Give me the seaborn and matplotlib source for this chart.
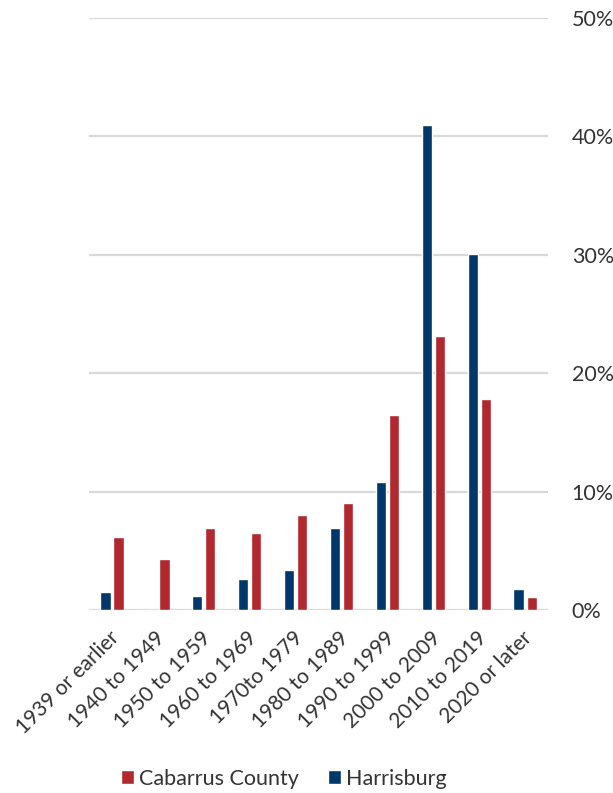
import matplotlib
matplotlib.use("Agg")
import matplotlib.pyplot as plt
import matplotlib.transforms as mtransforms
from matplotlib.patches import Patch
from matplotlib.ticker import FuncFormatter
import seaborn as sns
import pandas as pd

# Year structure built, share of housing units (%)
periods = ["1939 or earlier", "1940 to 1949", "1950 to 1959", "1960 to 1969",
           "1970to 1979", "1980 to 1989", "1990 to 1999", "2000 to 2009",
           "2010 to 2019", "2020 or later"]
harrisburg = [1.5, 0.0, 1.2, 2.6, 3.4, 6.9, 10.8, 41.0, 30.1, 1.8]
cabarrus = [6.2, 4.3, 6.9, 6.5, 8.0, 9.0, 16.5, 23.1, 17.8, 1.1]
y_ticks = [0, 10, 20, 30, 40, 50]

navy = "#00386B"
red = "#B2282F"
grid_gray = "#D9D9D9"
text_gray = "#333333"

df = pd.DataFrame({
    "period": periods * 2,
    "share": harrisburg + cabarrus,
    "area": ["Harrisburg"] * len(periods) + ["Cabarrus County"] * len(periods),
})

sns.set_theme(style="white")
plt.rcParams["font.family"] = ["Lato", "DejaVu Sans"]

fig = plt.figure(figsize=(6.13, 7.93), dpi=100)
ax = fig.add_axes([0.1452, 0.2308, 0.894 - 0.1452, 0.9773 - 0.2308])

sns.barplot(data=df, x="period", y="share", hue="area",
            hue_order=["Harrisburg", "Cabarrus County"],
            palette={"Harrisburg": navy, "Cabarrus County": red},
            order=periods, width=0.57, gap=0.22, dodge=True, saturation=1,
            legend=False, ax=ax, zorder=3)

ax.set_ylim(0, 50)
ax.set_xlim(-0.5, len(periods) - 0.5)
ax.set_yticks(y_ticks)
ax.yaxis.set_major_formatter(FuncFormatter(lambda v, _: f"{v:.0f}%"))
ax.yaxis.tick_right()
ax.tick_params(axis="y", length=0, pad=17, labelsize=15.5, labelcolor=text_gray)
ax.tick_params(axis="x", length=0, pad=18)
ax.set_xticks(range(len(periods)))
ax.set_xticklabels(periods, rotation=45, ha="right", va="center",
                   rotation_mode="anchor", fontsize=15, color=text_gray)
# nudge the slanted category labels slightly to the right
shift = mtransforms.ScaledTranslation(4 / 100, 0, fig.dpi_scale_trans)
for lab in ax.get_xticklabels():
    lab.set_transform(lab.get_transform() + shift)

ax.grid(axis="y", color=grid_gray, linewidth=1.6, zorder=0)
ax.grid(axis="x", visible=False)
for s in ax.spines.values():
    s.set_visible(False)
ax.set_xlabel("")
ax.set_ylabel("")

handles = [Patch(facecolor=red, label="Cabarrus County"),
           Patch(facecolor=navy, label="Harrisburg")]
fig.legend(handles=handles, loc="center", bbox_to_anchor=(0.463, 0.018),
           ncol=2, frameon=False, fontsize=15.5, handlelength=0.6,
           handleheight=0.6, handletextpad=0.25, columnspacing=1.35,
           labelcolor=text_gray)

fig.savefig("out.png", dpi=100)
